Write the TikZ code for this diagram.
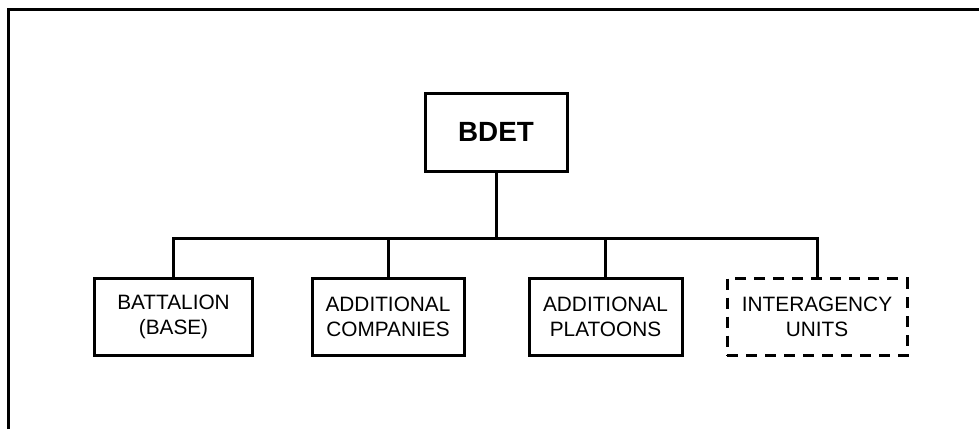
\documentclass[tikz,border=0pt]{standalone}
\usepackage{fontspec}
\setmainfont{Liberation Sans}
\begin{document}
\begin{tikzpicture}[x=1pt,y=-1pt,line width=3pt,
  unitbox/.style={draw,minimum height=77pt,align=center,inner sep=0pt,font=\fontsize{20.8}{25.5}\selectfont},
  topbox/.style={draw,minimum width=142pt,minimum height=78pt,inner sep=0pt,font=\fontsize{27.8}{30}\selectfont\bfseries},
  dashbox/.style={unitbox,dash pattern=on 11pt off 8pt},
  conn/.style={draw,line width=3pt}]
\useasboundingbox (0,0) rectangle (979,429);
\coordinate (fl) at (8,429);
\coordinate (fc) at (8,9);
\coordinate (fr) at (979,9);
\draw[line width=3pt] (fl) -- (fc) -- (fr);
\node[topbox] (bdet) at (496,132) {BDET};
\node[unitbox,minimum width=158pt] (bat) at (173.5,317) {BATTALION\\(BASE)};
\node[unitbox,minimum width=152pt] (comp) at (388,317) {ADDITIONAL\\COMPANIES};
\node[unitbox,minimum width=153pt] (plat) at (605.5,317) {ADDITIONAL\\PLATOONS};
\node[dashbox,minimum width=180pt] (inter) at (817,317) {INTERAGENCY\\UNITS};
\coordinate (bus) at (496,238);
\draw[conn] (bdet.south) -- (bus);
\draw[conn] (bat.north) |- (bus -| inter.north) -- (inter.north);
\draw[conn] (comp.north) -- (comp.north |- bus);
\draw[conn] (plat.north) -- (plat.north |- bus);
\end{tikzpicture}
\end{document}
